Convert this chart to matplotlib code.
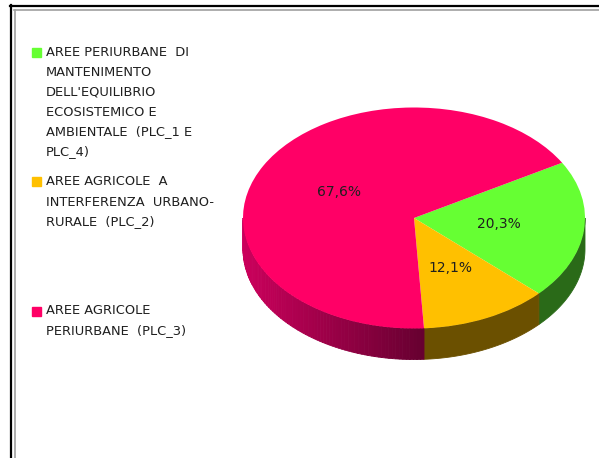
import matplotlib.pyplot as plt
import numpy as np
from matplotlib.patches import Polygon, Rectangle
from matplotlib.lines import Line2D
from matplotlib.colors import to_rgb

categories = [
    "AREE PERIURBANE  DI\nMANTENIMENTO\nDELL'EQUILIBRIO\nECOSISTEMICO E\nAMBIENTALE  (PLC_1 E\nPLC_4)",
    "AREE AGRICOLE  A\nINTERFERENZA  URBANO-\nRURALE  (PLC_2)",
    "AREE AGRICOLE\nPERIURBANE  (PLC_3)",
]
shares = [20.3, 12.1, 67.6]
top_colors = ["#66FF33", "#FFC000", "#FF0066"]
side_colors = ["#2A6A18", "#6B5000", "#CC005C"]
side_dark = {2: "#660030"}  # red wall darkens towards the front

W, H = 599, 458
fig = plt.figure(figsize=(W / 100, H / 100), dpi=100)


def fx(px):
    return px / W


def fy(py):
    return 1 - py / H


# double frame (black outer, grey inner)
fig.add_artist(Line2D([fx(11), fx(11)], [fy(5), 0], color="black", lw=1.6))
fig.add_artist(Line2D([fx(10), 1], [fy(5.5), fy(5.5)], color="black", lw=1.6))
fig.add_artist(Line2D([fx(14.5), fx(14.5)], [fy(10), 0], color="#A0A0A0", lw=1.2))
fig.add_artist(Line2D([fx(14), 1], [fy(10), fy(10)], color="#A0A0A0", lw=1.2))

# legend on the left
legend_y = [52, 182, 311]
for label, color, y0 in zip(categories, top_colors, legend_y):
    fig.add_artist(Rectangle((fx(32), fy(y0 + 4.5)), 9 / W, 9 / H,
                             color=color, transform=fig.transFigure))
    for i, line in enumerate(label.split("\n")):
        fig.text(fx(46), fy(y0 + 20 * i), line, fontsize=9.4, va="center",
                 ha="left", color="#1f1f1f")

# pie axes: unit circle squashed into an ellipse
cx, cy, rx, ry = 414, 218, 171, 110.5
xlim = (-1.05, 1.05)
ylim = (-1.45, 1.05)
left = cx + xlim[0] * rx
right = cx + xlim[1] * rx
top = cy - ylim[1] * ry
bottom = cy - ylim[0] * ry
ax = fig.add_axes([fx(left), fy(bottom), (right - left) / W, (bottom - top) / H])
depth = 31 / ry

start = 30
bounds = start - 360 * np.cumsum([0] + shares) / sum(shares)


def wall(t0, t1):
    t = np.radians(np.linspace(t0, t1, 40))
    x, y = np.cos(t), np.sin(t)
    return np.column_stack([np.r_[x, x[::-1]], np.r_[y, y[::-1] - depth]])


# side walls, only the front half (-180..0 degrees) is visible
for i in range(len(shares)):
    hi, lo = bounds[i], bounds[i + 1]
    for k in (-360, 0, 360):
        a, b = max(lo + k, -180), min(hi + k, 0)
        if a >= b:
            continue
        if i in side_dark:
            c0, c1 = np.array(to_rgb(side_colors[i])), np.array(to_rgb(side_dark[i]))
            edges = np.linspace(a, b, 80)
            xa = np.cos(np.radians(a))
            xb = np.cos(np.radians(b))
            for s0, s1 in zip(edges[:-1], edges[1:]):
                xm = np.cos(np.radians((s0 + s1) / 2))
                f = (xm - xa) / (xb - xa)
                col = c0 + (c1 - c0) * f
                ax.add_patch(Polygon(wall(s0, s1), closed=True, facecolor=col,
                                     edgecolor=col, lw=0.6, zorder=0.5))
        else:
            ax.add_patch(Polygon(wall(a, b), closed=True, facecolor=side_colors[i],
                                 edgecolor=side_colors[i], lw=0.6, zorder=0.5))

ax.pie(shares, colors=top_colors, startangle=start, counterclock=False,
       autopct=lambda p: f"{p:.1f}%".replace(".", ","), pctdistance=0.5,
       textprops=dict(fontsize=10, color="#1f1f1f"))
ax.set_aspect("auto")
ax.set_xlim(xlim)
ax.set_ylim(ylim)
ax.axis("off")

fig.savefig("out.png", dpi=100)
